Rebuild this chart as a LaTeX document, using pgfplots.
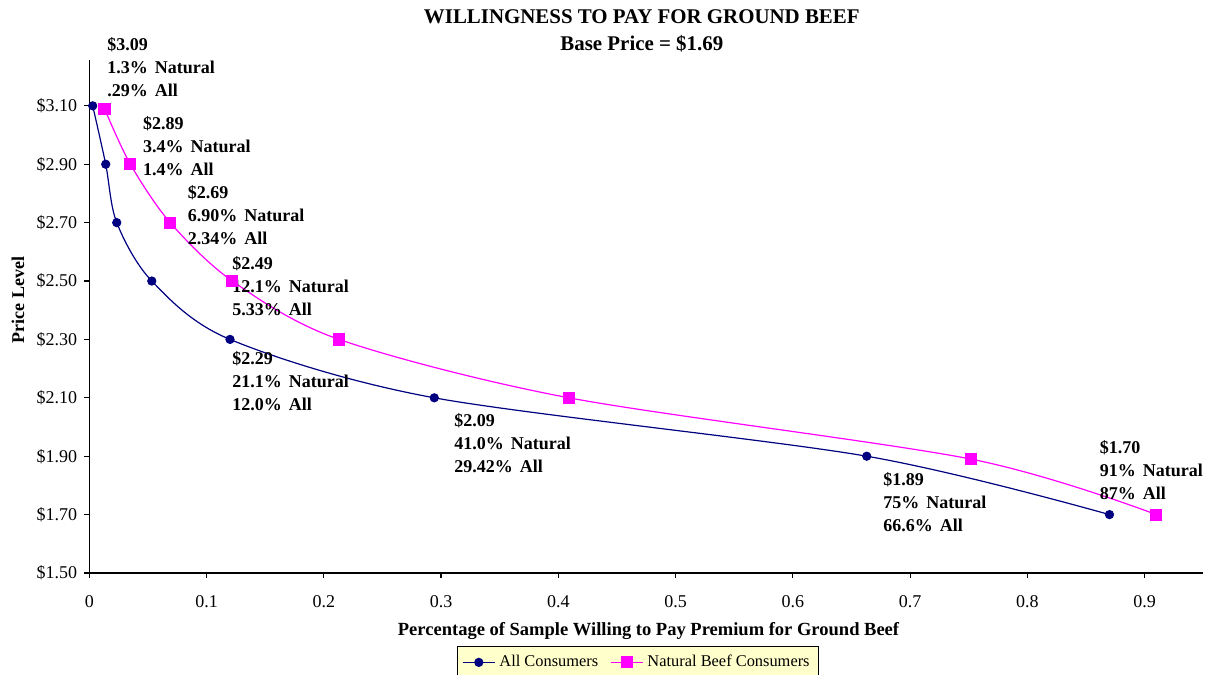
\documentclass[border=0pt]{standalone}
\usepackage{fontspec}
\setmainfont{Liberation Serif}
\usepackage{pgfplots}
\pgfplotsset{compat=1.18}
\definecolor{allblue}{HTML}{000080}
\definecolor{natmag}{HTML}{FF00FF}
\definecolor{legbg}{HTML}{FFFFCC}
\tikzset{lbl/.style={anchor=west, align=left, inner sep=0pt,
  font=\fontsize{9}{11.5}\selectfont\bfseries}}
\newcommand{\gap}{\hspace{3.5pt}}
\begin{document}
\begin{tikzpicture}
\path[use as bounding box] (-44.65pt,-51pt) rectangle (558.85pt,286.5pt);
\begin{axis}[
  scale only axis, width=557pt, height=256.5pt,
  xmin=0, xmax=0.95, ymin=1.5, ymax=3.257,
  axis x line=bottom, axis y line=left,
  axis line style={-, line width=0.7pt},
  tick align=outside, major tick length=2.5pt,
  tick style={black, line width=0.6pt},
  xtick={0,0.1,0.2,0.3,0.4,0.5,0.6,0.7,0.8,0.9},
  xticklabels={0,0.1,0.2,0.3,0.4,0.5,0.6,0.7,0.8,0.9},
  ytick={1.5,1.7,1.9,2.1,2.3,2.5,2.7,2.9,3.1},
  yticklabels={\$1.50,\$1.70,\$1.90,\$2.10,\$2.30,\$2.50,\$2.70,\$2.90,\$3.10},
  ticklabel style={font=\fontsize{9}{11}\selectfont},
  xticklabel style={yshift=-5pt},
  clip=false,
  legend style={at={(rel axis cs:0.4925,0)}, anchor=north, yshift=-36.3pt,
    legend columns=2, fill=legbg, draw=black, line width=0.5pt,
    font=\fontsize{8.2}{10}\selectfont, inner sep=2.5pt,
    /tikz/every even column/.append style={column sep=4pt}},
  legend image code/.code={\draw[#1] (0pt,0pt) -- (16pt,0pt); \draw[#1, mark repeat=2, mark phase=2] plot coordinates {(0pt,0pt) (8pt,0pt) (16pt,0pt)};},
]
\addplot[allblue, line width=0.6pt, smooth, mark=*, mark size=2pt,
  mark options={fill=allblue, draw=allblue}]
  coordinates {(0.0029,3.10) (0.014,2.90) (0.0234,2.70) (0.0533,2.50)
               (0.12,2.30) (0.2942,2.10) (0.663,1.90) (0.87,1.70)};
\addlegendentry{All Consumers}
\addplot[natmag, line width=0.6pt, smooth, mark=square*, mark size=2.75pt,
  mark options={fill=natmag, draw=natmag}]
  coordinates {(0.013,3.09) (0.035,2.90) (0.069,2.70) (0.122,2.50)
               (0.213,2.30) (0.409,2.10) (0.752,1.89) (0.91,1.70)};
\addlegendentry{Natural Beef Consumers}

\node[lbl] at (axis cs:0.0151,3.234) {\$3.09\\1.3\%\gap Natural\\.29\%\gap All};
\node[lbl] at (axis cs:0.0455,2.963) {\$2.89\\3.4\%\gap Natural\\1.4\%\gap All};
\node[lbl] at (axis cs:0.0838,2.726) {\$2.69\\6.90\%\gap Natural\\2.34\%\gap All};
\node[lbl] at (axis cs:0.1217,2.483) {\$2.49\\12.1\%\gap Natural\\5.33\%\gap All};
\node[lbl] at (axis cs:0.1217,2.158) {\$2.29\\21.1\%\gap Natural\\12.0\%\gap All};
\node[lbl] at (axis cs:0.311,1.945) {\$2.09\\41.0\%\gap Natural\\29.42\%\gap All};
\node[lbl] at (axis cs:0.6769,1.744) {\$1.89\\75\%\gap Natural\\66.6\%\gap All};
\node[lbl] at (axis cs:0.8615,1.853) {\$1.70\\91\%\gap Natural\\87\%\gap All};

\node[font=\fontsize{10.45}{12}\selectfont\bfseries, inner sep=0pt]
  at ([yshift=21.5pt]rel axis cs:0.496,1) {WILLINGNESS TO PAY FOR GROUND BEEF};
\node[font=\fontsize{10.45}{12}\selectfont\bfseries, inner sep=0pt]
  at ([yshift=8pt]rel axis cs:0.496,1) {Base Price = \$1.69};
\node[font=\fontsize{9}{11}\selectfont\bfseries, inner sep=0pt, rotate=90]
  at ([xshift=-35.7pt]rel axis cs:0,0.532) {Price Level};
\node[font=\fontsize{9.26}{11}\selectfont\bfseries, inner sep=0pt]
  at ([yshift=-29pt]rel axis cs:0.502,0) {Percentage of Sample Willing to Pay Premium for Ground Beef};
\end{axis}
\end{tikzpicture}
\end{document}
